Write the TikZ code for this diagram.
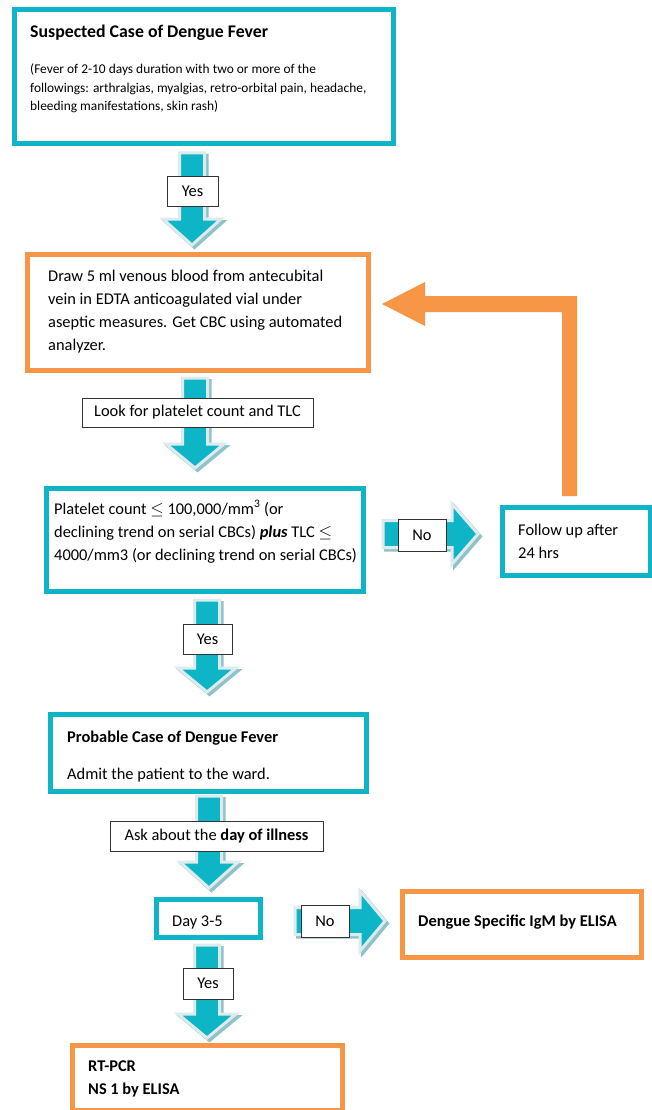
\documentclass[tikz,border=0pt]{standalone}
\usepackage{fontspec}
\setmainfont{Carlito}
\definecolor{cy}{HTML}{0DB5C6}
\definecolor{og}{HTML}{F79646}
\definecolor{aout}{HTML}{DDEBEE}
\definecolor{ashd}{HTML}{8FC2C9}
\newcommand\fs{\fontsize{16.4}{20}\selectfont}
\newcommand\fstitle{\fontsize{17.8}{21}\selectfont}
\newcommand\fssmall{\fontsize{13.4}{16}\selectfont}
\tikzset{
  cbox/.style={draw=cy, line width=4pt, inner sep=0pt, fill=white},
  obox/.style={draw=og, line width=4pt, inner sep=0pt, fill=white},
  tx/.style={anchor=base west, inner sep=0pt, font=\fs},
  lab/.style={draw=black!80, fill=white, line width=0.8pt, inner sep=0pt, font=\fs},
  ashadow/.style={fill=ashd, draw=ashd, line width=3pt, shift={(2.5,2.5)}},
  abody/.style={fill=cy, draw=aout, line width=3pt},
}
\newcommand\inl[2]{\draw[#2, line width=1pt] ([xshift=4.3pt,yshift=-4.3pt]#1.north west) rectangle ([xshift=-4.3pt,yshift=4.3pt]#1.south east);}
\newcommand\dnshape[4]{({#1-12.5},#2) -- ({#1+12.5},#2) -- ({#1+12.5},#3) -- ({#1+29},#3) -- (#1,#4) -- ({#1-29},#3) -- ({#1-12.5},#3) -- cycle}
\newcommand\mydown[4]{\path[ashadow] \dnshape{#1}{#2}{#3}{#4}; \path[abody] \dnshape{#1}{#2}{#3}{#4};}
\newcommand\rtshape[4]{(#2,{#1-13.5}) -- (#3,{#1-13.5}) -- (#3,{#1-30}) -- (#4,#1) -- (#3,{#1+30}) -- (#3,{#1+13.5}) -- (#2,{#1+13.5}) -- cycle}
\newcommand\myright[4]{\path[ashadow] \rtshape{#1}{#2}{#3}{#4}; \path[abody] \rtshape{#1}{#2}{#3}{#4};}
\begin{document}
\begin{tikzpicture}[x=1pt,y=-1pt]
\useasboundingbox (0,0) rectangle (652,1110);
\fill[white] (0,0) rectangle (652,1110);

% block arrows
\mydown{192}{153}{219}{245}
\mydown{195}{378}{444}{468}
\mydown{207}{600}{668}{692}
\mydown{209}{796}{862}{888}
\mydown{207}{945}{1014}{1038}
\myright{534}{383}{452}{478}
\myright{921}{295}{360}{385}

% orange loop arrow
\fill[og] (562,496) -- (577,496) -- (577,296) -- (425,296) -- (425,282) -- (382,304) -- (425,326) -- (425,312) -- (562,312) -- cycle;

% boxes
\node[cbox, minimum width=380pt, minimum height=135pt] (b1) at (204,76.5) {};
\inl{b1}{cy}
\node[obox, minimum width=342pt, minimum height=117pt] (b2) at (198,312.5) {};
\inl{b2}{og}
\node[cbox, minimum width=318pt, minimum height=104pt] (b3) at (205,540) {};
\inl{b3}{cy}
\node[cbox, minimum width=149pt, minimum height=69pt] (b4) at (576.5,541.5) {};
\inl{b4}{cy}
\node[cbox, minimum width=317pt, minimum height=78pt] (b5) at (208.5,753) {};
\inl{b5}{cy}
\node[cbox, minimum width=105pt, minimum height=39pt] (b6) at (208.5,918.5) {};
\inl{b6}{cy}
\node[obox, minimum width=240pt, minimum height=67pt] (b7) at (522,924.5) {};
\inl{b7}{og}
\node[obox, minimum width=271pt, minimum height=66pt] (b8) at (207.5,1078) {};
\inl{b8}{og}

% texts
\node[tx, font=\fstitle\bfseries] (t1a) at (30,37.5) {Suspected Case of Dengue Fever};
\node[tx, font=\fssmall] (t1b) at (30,74) {(Fever of 2-10 days duration with two or more of the};
\node[tx, font=\fssmall] (t1c) at (30,92.5) {followings: arthralgias, myalgias, retro-orbital pain, headache,};
\node[tx, font=\fssmall] (t1d) at (30,111) {bleeding manifestations, skin rash)};

\node[tx] (t2a) at (48,281) {Draw 5 ml venous blood from antecubital};
\node[tx] (t2b) at (48,304) {vein in EDTA anticoagulated vial under};
\node[tx] (t2c) at (48,327) {aseptic measures. Get CBC using automated};
\node[tx] (t2d) at (48,350) {analyzer.};

\node[tx] (t3a) at (54,514) {Platelet count $\leq$ 100,000/mm\textsuperscript{3} (or};
\node[tx] (t3b) at (54,537) {declining trend on serial CBCs) \textbf{\textit{plus}} TLC $\leq$};
\node[tx] (t3c) at (54,560) {4000/mm3 (or declining trend on serial CBCs)};

\node[tx] (t4a) at (518,535) {Follow up after};
\node[tx] (t4b) at (518,558) {24 hrs};

\node[tx, font=\fs\bfseries] (t5a) at (67,742) {Probable Case of Dengue Fever};
\node[tx] (t5b) at (67,779) {Admit the patient to the ward.};

\node[tx] (t6) at (172,926) {Day 3-5};
\node[tx, font=\fs\bfseries] (t7) at (418,926) {Dengue Specific IgM by ELISA};
\node[tx, font=\fs\bfseries] (t8a) at (88,1071) {RT-PCR};
\node[tx, font=\fs\bfseries] (t8b) at (88,1094) {NS 1 by ELISA};

% labels on arrows
\node[lab, minimum width=51pt, minimum height=30pt] (l1) at (192.5,191) {Yes};
\node[lab, minimum width=231pt, minimum height=29pt] (l2) at (197.5,412.5) {Look for platelet count and TLC};
\node[lab, minimum width=48pt, minimum height=32pt] (l3) at (422,535) {No};
\node[lab, minimum width=49pt, minimum height=30pt] (l4) at (207.5,639) {Yes};
\node[lab, minimum width=213pt, minimum height=30pt] (l5) at (216.5,836) {Ask about the \textbf{day of illness}};
\node[lab, minimum width=48pt, minimum height=32pt] (l6) at (325,921) {No};
\node[lab, minimum width=50pt, minimum height=31pt] (l7) at (208,983.5) {Yes};
\end{tikzpicture}
\end{document}
